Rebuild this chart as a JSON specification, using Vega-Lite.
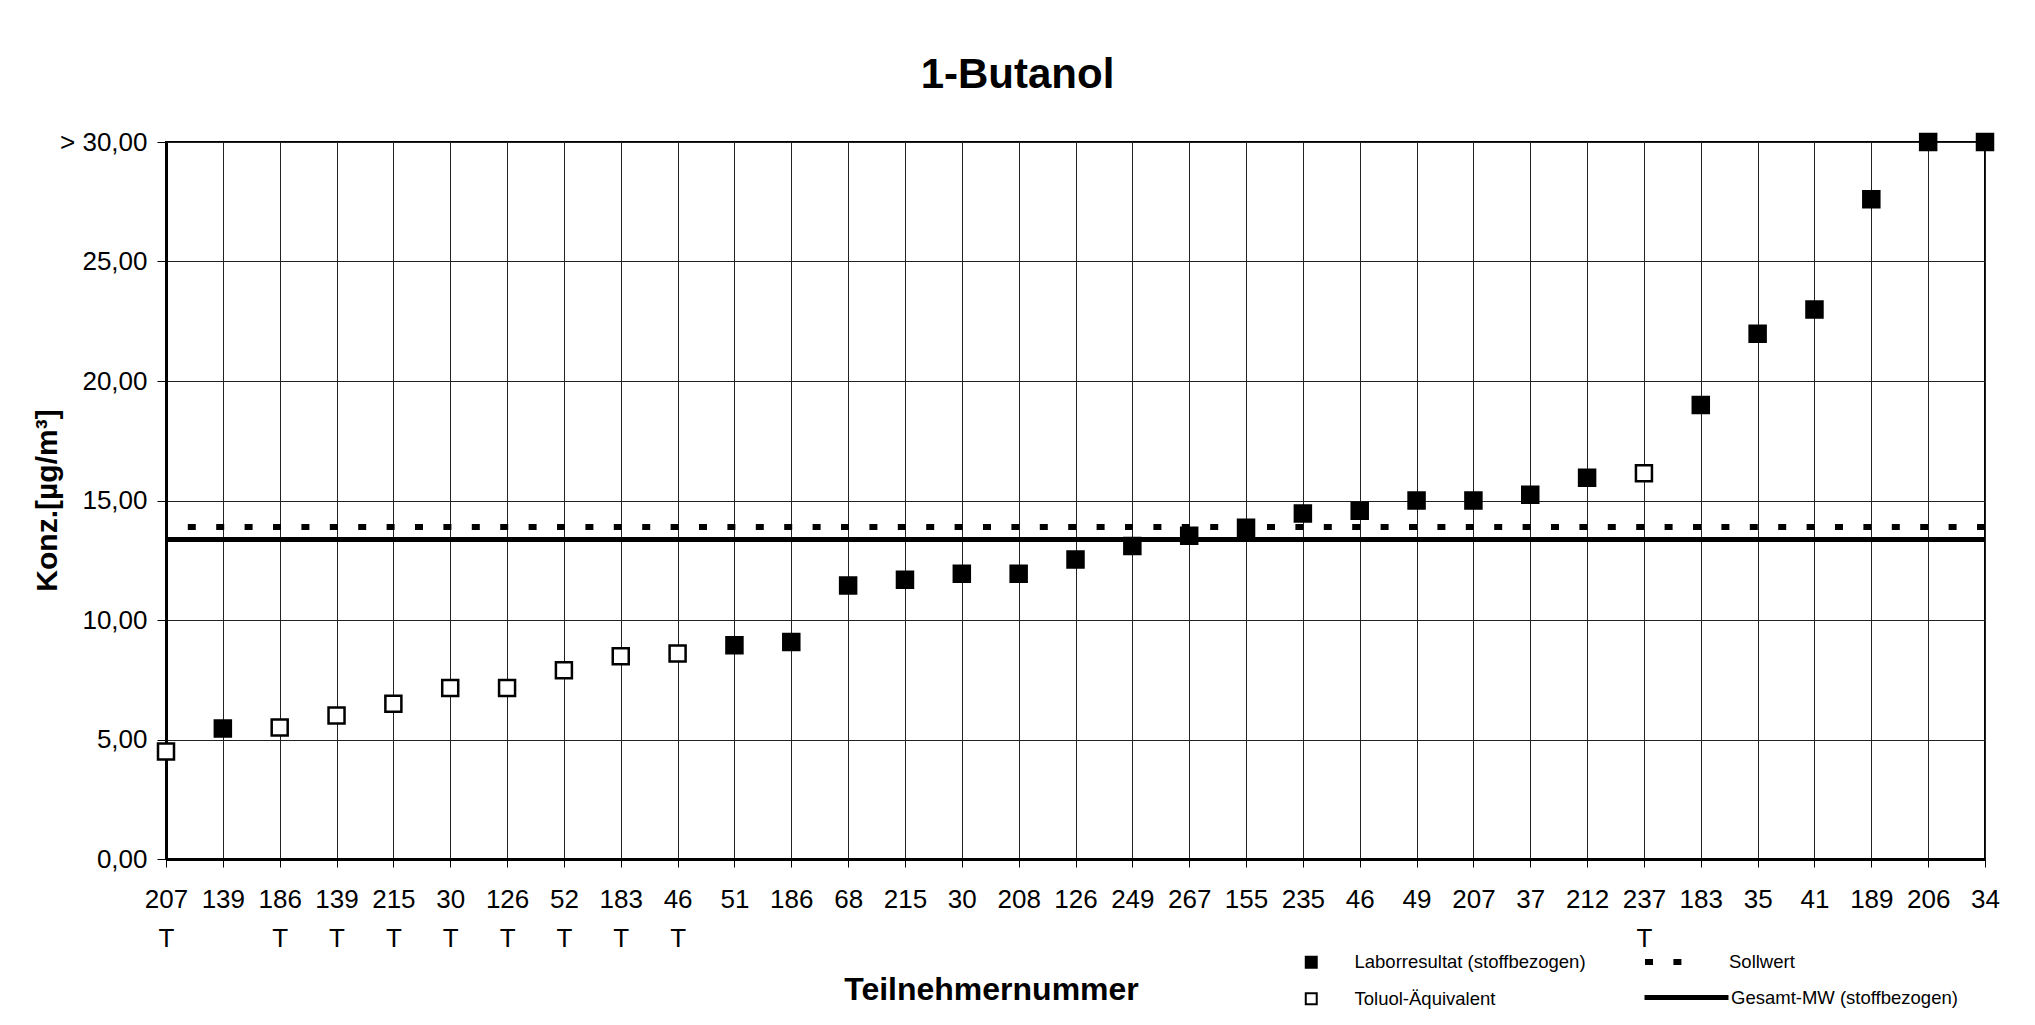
{
  "$schema": "https://vega.github.io/schema/vega-lite/v6.json",
  "width": 1819,
  "height": 717,
  "autosize": {"type": "none"},
  "padding": {"left": 166, "top": 142, "right": 50, "bottom": 166},
  "background": "white",
  "config": {
    "font": "Liberation Sans",
    "view": {"stroke": "black", "strokeWidth": 2},
    "axis": {"labelFont": "Liberation Sans", "titleFont": "Liberation Sans", "labelColor": "black", "titleColor": "black", "tickColor": "black", "domainColor": "black"},
    "legend": {"labelFont": "Liberation Sans", "labelColor": "black", "labelLimit": 500}
  },
  "title": {
    "text": "1-Butanol",
    "fontSize": 42,
    "fontWeight": "bold",
    "font": "Liberation Sans",
    "color": "black",
    "anchor": "middle",
    "frame": "group",
    "dx": -58,
    "baseline": "alphabetic",
    "offset": -1
  },
  "datasets": {
    "punkte": [
      {"Teilnehmer": "207 T", "Wert": 4.5, "Art": "Toluol-Äquivalent"},
      {"Teilnehmer": "139", "Wert": 5.46, "Art": "Laborresultat (stoffbezogen)"},
      {"Teilnehmer": "186 T", "Wert": 5.5, "Art": "Toluol-Äquivalent"},
      {"Teilnehmer": "139 T", "Wert": 6.0, "Art": "Toluol-Äquivalent"},
      {"Teilnehmer": "215 T", "Wert": 6.5, "Art": "Toluol-Äquivalent"},
      {"Teilnehmer": "30 T", "Wert": 7.15, "Art": "Toluol-Äquivalent"},
      {"Teilnehmer": "126 T", "Wert": 7.15, "Art": "Toluol-Äquivalent"},
      {"Teilnehmer": "52 T", "Wert": 7.9, "Art": "Toluol-Äquivalent"},
      {"Teilnehmer": "183 T", "Wert": 8.48, "Art": "Toluol-Äquivalent"},
      {"Teilnehmer": "46 T", "Wert": 8.6, "Art": "Toluol-Äquivalent"},
      {"Teilnehmer": "51", "Wert": 8.94, "Art": "Laborresultat (stoffbezogen)"},
      {"Teilnehmer": "186", "Wert": 9.08, "Art": "Laborresultat (stoffbezogen)"},
      {"Teilnehmer": "68", "Wert": 11.44, "Art": "Laborresultat (stoffbezogen)"},
      {"Teilnehmer": "215", "Wert": 11.68, "Art": "Laborresultat (stoffbezogen)"},
      {"Teilnehmer": "30", "Wert": 11.93, "Art": "Laborresultat (stoffbezogen)"},
      {"Teilnehmer": "208", "Wert": 11.93, "Art": "Laborresultat (stoffbezogen)"},
      {"Teilnehmer": "126", "Wert": 12.53, "Art": "Laborresultat (stoffbezogen)"},
      {"Teilnehmer": "249", "Wert": 13.1, "Art": "Laborresultat (stoffbezogen)"},
      {"Teilnehmer": "267", "Wert": 13.53, "Art": "Laborresultat (stoffbezogen)"},
      {"Teilnehmer": "155", "Wert": 13.86, "Art": "Laborresultat (stoffbezogen)"},
      {"Teilnehmer": "235", "Wert": 14.46, "Art": "Laborresultat (stoffbezogen)"},
      {"Teilnehmer": "46", "Wert": 14.57, "Art": "Laborresultat (stoffbezogen)"},
      {"Teilnehmer": "49", "Wert": 15.0, "Art": "Laborresultat (stoffbezogen)"},
      {"Teilnehmer": "207", "Wert": 15.0, "Art": "Laborresultat (stoffbezogen)"},
      {"Teilnehmer": "37", "Wert": 15.24, "Art": "Laborresultat (stoffbezogen)"},
      {"Teilnehmer": "212", "Wert": 15.95, "Art": "Laborresultat (stoffbezogen)"},
      {"Teilnehmer": "237 T", "Wert": 16.14, "Art": "Toluol-Äquivalent"},
      {"Teilnehmer": "183", "Wert": 19.0, "Art": "Laborresultat (stoffbezogen)"},
      {"Teilnehmer": "35", "Wert": 21.98, "Art": "Laborresultat (stoffbezogen)"},
      {"Teilnehmer": "41", "Wert": 22.99, "Art": "Laborresultat (stoffbezogen)"},
      {"Teilnehmer": "189", "Wert": 27.6, "Art": "Laborresultat (stoffbezogen)"},
      {"Teilnehmer": "206", "Wert": 30.0, "Art": "Laborresultat (stoffbezogen)"},
      {"Teilnehmer": "34", "Wert": 30.0, "Art": "Laborresultat (stoffbezogen)"}
    ],
    "soll": [
      {"Linie": "Sollwert", "Wert": 13.89}
    ],
    "mw": [
      {"Linie": "Gesamt-MW (stoffbezogen)", "Wert": 13.37}
    ]
  },
  "layer": [
    {
      "data": {"name": "soll"},
      "mark": {"type": "rule", "strokeWidth": 6, "color": "black"},
      "encoding": {
        "y": {"field": "Wert", "type": "quantitative", "scale": {"domain": [0, 30]}},
        "strokeDash": {
          "field": "Linie",
          "type": "nominal",
          "scale": {"domain": ["Sollwert"], "range": [[8, 20.4]]},
          "legend": {
            "title": null,
            "orient": "none",
            "legendX": 1476,
            "legendY": 797,
            "padding": 0,
            "symbolType": "stroke",
            "symbolSize": 1600,
            "symbolStrokeWidth": 6,
            "symbolStrokeColor": "black",
            "labelFontSize": 18.5,
            "labelOffset": 41
          }
        }
      }
    },
    {
      "data": {"name": "mw"},
      "mark": {"type": "rule", "strokeWidth": 5},
      "encoding": {
        "y": {"field": "Wert", "type": "quantitative"},
        "color": {
          "field": "Linie",
          "type": "nominal",
          "scale": {"domain": ["Gesamt-MW (stoffbezogen)"], "range": ["black"]},
          "legend": {
            "title": null,
            "orient": "none",
            "legendX": 1476,
            "legendY": 811,
            "padding": 0,
            "symbolType": "stroke",
            "symbolSize": 7056,
            "symbolStrokeWidth": 5,
            "labelFontSize": 18.5,
            "labelOffset": 0
          }
        }
      }
    },
    {
      "data": {"name": "punkte"},
      "mark": {"type": "point", "shape": "square", "filled": true, "size": 256, "stroke": "black", "strokeWidth": 2.5, "opacity": 1},
      "encoding": {
        "x": {
          "field": "Teilnehmer",
          "type": "ordinal",
          "sort": null,
          "scale": {"type": "point", "padding": 0},
          "axis": {
            "title": "Teilnehmernummer",
            "titleFontSize": 32,
            "titleFontWeight": "bold",
            "titleX": 825,
            "titleY": 130,
            "titleAlign": "center",
            "titleBaseline": "middle",
            "labelAngle": 0,
            "labelFontSize": 26,
            "labelLineHeight": 39,
            "labelPadding": 19,
            "labelOverlap": false,
            "labelBound": false,
            "labelFlush": false,
            "labelExpr": "split(datum.value, ' ')",
            "tickSize": 8,
            "tickWidth": 1,
            "domainWidth": 3,
            "grid": true,
            "gridColor": "#222",
            "gridWidth": 1,
            "gridOpacity": 1
          }
        },
        "y": {
          "field": "Wert",
          "type": "quantitative",
          "scale": {"domain": [0, 30], "nice": false},
          "axis": {
            "title": "Konz.[µg/m³]",
            "titleFontSize": 30,
            "titleFontWeight": "bold",
            "titleX": -119,
            "titleY": 358,
            "titleAlign": "center",
            "titleBaseline": "middle",
            "titleAngle": -90,
            "values": [0, 5, 10, 15, 20, 25, 30],
            "labelExpr": "datum.value == 30 ? '> 30,00' : replace(format(datum.value, '.2f'), '.', ',')",
            "labelFontSize": 26,
            "labelPadding": 10,
            "tickSize": 9,
            "tickWidth": 1,
            "domainWidth": 3,
            "grid": true,
            "gridColor": "#222",
            "gridWidth": 1,
            "gridOpacity": 1
          }
        },
        "fill": {
          "field": "Art",
          "type": "nominal",
          "scale": {"domain": ["Laborresultat (stoffbezogen)", "Toluol-Äquivalent"], "range": ["black", "white"]},
          "legend": {
            "title": null,
            "orient": "none",
            "legendX": 1136,
            "legendY": 811,
            "padding": 0,
            "symbolType": "square",
            "symbolSize": 120,
            "symbolStrokeColor": "black",
            "symbolStrokeWidth": 2,
            "labelFontSize": 18.5,
            "labelOffset": 34,
            "rowPadding": 16.5
          }
        }
      }
    }
  ]
}
